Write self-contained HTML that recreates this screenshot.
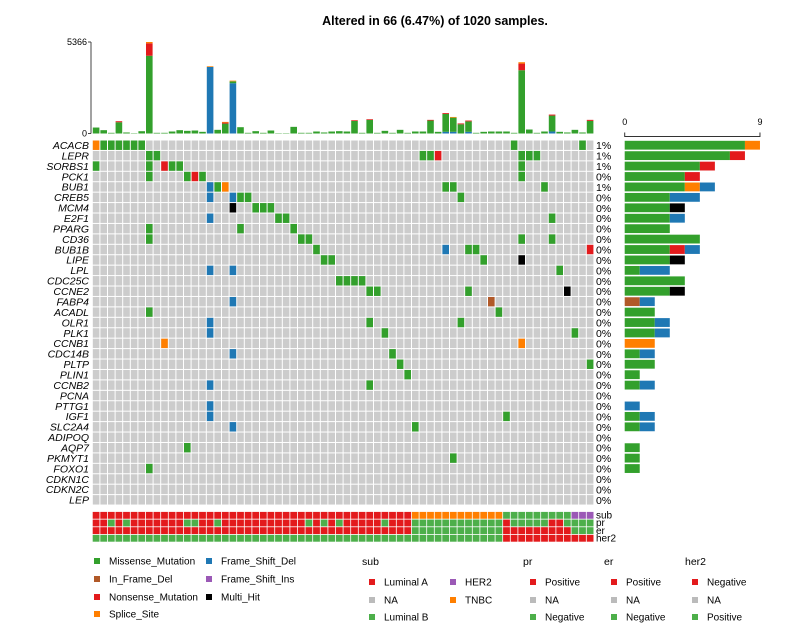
<!DOCTYPE html>
<html><head><meta charset="utf-8">
<style>
body{margin:0;background:#fff;}
svg{display:block;font-family:"Liberation Sans",sans-serif;}
</style></head>
<body>
<svg id="chart" width="794" height="637" viewBox="0 0 794 637" xmlns="http://www.w3.org/2000/svg">
<text x="435" y="25" font-size="12.5" font-weight="bold" text-anchor="middle">Altered in 66 (6.47%) of 1020 samples.</text>
<g id="tmb"></g><g id="grid"></g><g id="side"></g><g id="ann"></g><g id="legend"></g>
</svg>
<script>
const genes=["ACACB","LEPR","SORBS1","PCK1","BUB1","CREB5","MCM4","E2F1","PPARG","CD36","BUB1B","LIPE","LPL","CDC25C","CCNE2","FABP4","ACADL","OLR1","PLK1","CCNB1","CDC14B","PLTP","PLIN1","CCNB2","PCNA","PTTG1","IGF1","SLC2A4","ADIPOQ","AQP7","PKMYT1","FOXO1","CDKN1C","CDKN2C","LEP"];
// mutations: [geneIndex, sampleIndex, type]
const mutations=[
[0,0,"S"],[0,1,"M"],[0,2,"M"],[0,3,"M"],[0,4,"M"],[0,5,"M"],[0,6,"M"],[0,55,"M"],[0,64,"M"],
[1,7,"M"],[1,8,"M"],[1,43,"M"],[1,44,"M"],[1,45,"N"],[1,56,"M"],[1,57,"M"],[1,58,"M"],
[2,0,"M"],[2,7,"M"],[2,9,"N"],[2,10,"M"],[2,11,"M"],[2,56,"M"],
[3,7,"M"],[3,12,"M"],[3,13,"N"],[3,14,"M"],[3,56,"M"],
[4,15,"D"],[4,16,"M"],[4,17,"S"],[4,46,"M"],[4,47,"M"],[4,59,"M"],
[5,15,"D"],[5,18,"D"],[5,19,"M"],[5,20,"M"],[5,48,"M"],
[6,18,"H"],[6,21,"M"],[6,22,"M"],[6,23,"M"],
[7,15,"D"],[7,24,"M"],[7,25,"M"],[7,60,"M"],
[8,7,"M"],[8,19,"M"],[8,26,"M"],
[9,7,"M"],[9,27,"M"],[9,28,"M"],[9,56,"M"],[9,60,"M"],
[10,29,"M"],[10,46,"D"],[10,49,"M"],[10,50,"M"],[10,65,"N"],
[11,30,"M"],[11,31,"M"],[11,51,"M"],[11,56,"H"],
[12,15,"D"],[12,18,"D"],[12,61,"M"],
[13,32,"M"],[13,33,"M"],[13,34,"M"],[13,35,"M"],
[14,36,"M"],[14,37,"M"],[14,49,"M"],[14,62,"H"],
[15,18,"D"],[15,52,"I"],
[16,7,"M"],[16,53,"M"],
[17,15,"D"],[17,36,"M"],[17,48,"M"],
[18,15,"D"],[18,38,"M"],[18,63,"M"],
[19,9,"S"],[19,56,"S"],
[20,18,"D"],[20,39,"M"],
[21,40,"M"],[21,65,"M"],
[22,41,"M"],
[23,15,"D"],[23,36,"M"],
[25,15,"D"],
[26,15,"D"],[26,54,"M"],
[27,18,"D"],[27,42,"M"],
[29,12,"M"],
[30,47,"M"],
[31,7,"M"]
];
const typeOrder=["M","I","N","S","D","F","H"];
const typeColor={M:"#33A02C",I:"#B15928",N:"#E31A1C",S:"#FF7F00",D:"#1F78B4",F:"#9B59B6",H:"#000000"};
// TMB stacks per sample
const tmbGreen=[350,195,40,660,60,20,135,4560,40,40,117,195,156,175,98,0,215,580,110,370,40,137,40,175,20,20,390,40,40,117,60,117,137,117,740,40,800,40,156,40,215,40,117,117,760,98,1050,830,540,610,40,98,117,117,117,40,3710,234,40,117,930,98,60,215,60,740];
const tmbBlue=[0,0,0,0,0,0,0,0,0,0,0,0,0,0,0,3900,0,0,2950,0,0,0,0,0,0,0,0,0,0,0,0,0,0,0,0,0,0,0,0,0,0,0,0,0,0,0,100,100,0,100,0,0,0,0,0,0,0,0,0,0,120,0,0,0,0,0];
const tmbRed=[0,0,0,60,0,0,0,730,0,0,0,0,0,0,0,0,0,60,0,0,0,0,0,0,0,0,0,0,0,0,0,0,0,0,40,0,40,0,0,0,0,0,0,0,40,0,50,0,50,50,0,0,0,0,0,0,390,0,0,0,60,0,0,0,0,60];
const tmbOrange=[0,0,0,0,0,0,0,76,0,0,0,0,0,0,0,40,0,40,40,0,0,0,0,0,0,0,0,0,0,0,0,0,0,0,0,0,0,0,0,0,0,0,0,0,0,0,0,40,0,0,0,0,0,0,0,0,80,0,0,0,0,0,0,0,0,0];
const tmbMax=5366;
const subType=[];const prStatus=[];const erStatus=[];const her2Status=[];
for(let i=0;i<66;i++){subType.push(i<42?"LumA":i<54?"TNBC":i<63?"LumB":"HER2");}
const prNegIdx=[2,4,12,13,16,28,30,32,38,42,43,44,45,46,47,48,49,50,51,52,53,55,56,57,58,59,62,63,64,65];
for(let i=0;i<66;i++){prStatus.push(prNegIdx.includes(i)?"Neg":"Pos");}
for(let i=0;i<66;i++){erStatus.push((i<42||(i>=54&&i<63))?"Pos":"Neg");}
for(let i=0;i<66;i++){her2Status.push(i<54?"Pos":"Neg");}
const annColor={LumA:"#E31A1C",TNBC:"#FF7F00",LumB:"#4DAF4A",HER2:"#9B59B6",Pos:"#E31A1C",Neg:"#4DAF4A"};
const her2Color={Pos:"#4DAF4A",Neg:"#E31A1C"};

const NS="http://www.w3.org/2000/svg";
const X0=92.3,CW=7.6,Y0=140,RH=10.43,N=66;
const xS=i=>X0+i*CW;
const yG=g=>Y0+g*RH;
function mk(tag,attrs,parent){const e=document.createElementNS(NS,tag);for(const k in attrs)e.setAttribute(k,attrs[k]);parent.appendChild(e);return e;}

// TMB bar chart
const tmbG=document.getElementById('tmb');
const tBase=133.5,tTop=42;
const yT=v=>tBase-(v/tmbMax)*(tBase-tTop);
let ax=mk('line',{x1:91,y1:tTop,x2:91,y2:tBase,stroke:'#444','stroke-width':1},tmbG);


[[0,"0"],[tmbMax,"5366"]].forEach(([v,l])=>{
 let t=mk('line',{x1:88,y1:yT(v),x2:91,y2:yT(v),stroke:'#444'},tmbG);
 
 
 let tx=mk('text',{x:87,y:yT(v)+3,'font-size':9,'text-anchor':'end'},tmbG);tx.textContent=l;
 
 
});
for(let i=0;i<N;i++){
 let base=0;
 [[tmbBlue,"#1F78B4"],[tmbGreen,"#33A02C"],[tmbRed,"#E31A1C"],[tmbOrange,"#FF7F00"]].forEach(([arr,c])=>{
  const v=arr[i];if(v<=0)return;
  const r=mk('rect',{x:xS(i)+0.5,y:yT(base+v),width:CW-1,height:yT(base)-yT(base+v),fill:c},tmbG);
  
  
  base+=v;
 });
}

// grid
const gridG=document.getElementById('grid');
mk('rect',{x:X0,y:Y0,width:N*CW,height:genes.length*RH,fill:'#fff'},gridG);
for(let g=0;g<genes.length;g++){
 for(let i=0;i<N;i++){
  const c=mk('rect',{x:xS(i)+0.5,y:yG(g)+0.5,width:CW-1,height:RH-1,fill:'#CCCCCC'},gridG);
  
  
 }
 const lb=mk('text',{x:89,y:yG(g)+RH/2+3.8,'font-size':10.5,'font-style':'italic','text-anchor':'end'},gridG);
 lb.textContent=genes[g];
 
 
}
mutations.forEach(([g,i,t])=>{
 const c=mk('rect',{x:xS(i)+0.5,y:yG(g)+0.5,width:CW-1,height:RH-1,fill:typeColor[t]},gridG);
 
 
});

// side bar
const sideG=document.getElementById('side');
const SX=624.7,SU=15.03;
const sl=mk('path',{d:`M${SX} 132.5V136.5H${SX+9*SU}V132.5`,fill:'none',stroke:'#333'},sideG);


[[0,"0"],[9,"9"]].forEach(([v,l])=>{
 const t=mk('text',{x:SX+v*SU,y:125,'font-size':9,'text-anchor':'middle'},sideG);t.textContent=l;
 
 
});
for(let g=0;g<genes.length;g++){
 const ms=mutations.filter(m=>m[0]===g);
 const samples=new Set(ms.map(m=>m[1]));
 const pct=Math.round(samples.size/1020*100);
 const p=mk('text',{x:596,y:yG(g)+RH/2+4,'font-size':10.5},sideG);p.textContent=pct+"%";
 
 
 let acc=0;
 typeOrder.forEach(t=>{
  const n=ms.filter(m=>m[2]===t).length;if(!n)return;
  const r=mk('rect',{x:SX+acc*SU,y:yG(g)+0.8,width:n*SU,height:RH-1.6,fill:typeColor[t]},sideG);
  
  
  acc+=n;
 });
}

// annotation tracks
const annG=document.getElementById('ann');
const AY=511.5,AH=7.65;
const tracks=[["sub",subType,annColor],["pr",prStatus,annColor],["er",erStatus,annColor],["her2",her2Status,her2Color]];
tracks.forEach(([nm,arr,cm],k)=>{
 for(let i=0;i<N;i++){
  const r=mk('rect',{x:xS(i)+0.4,y:AY+k*AH+0.4,width:CW-0.8,height:AH-0.8,fill:cm[arr[i]]},annG);
  
  
 }
 const t=mk('text',{x:596,y:AY+k*AH+7,'font-size':10},annG);t.textContent=nm;
 
 
});

// legend
const lg=document.getElementById('legend');
function entry(x,y,c,label,name){
 const r=mk('rect',{x:x-3,y:y-3,width:6,height:6,fill:c},lg);
 
 
 const t=mk('text',{x:x+12,y:y+3.5,'font-size':10},lg);t.textContent=label;
 
 
}
function title(x,y,l){const t=mk('text',{x:x,y:y,'font-size':10.5},lg);t.textContent=l;
 
 }
const ly=[561,579,597,614];
entry(97,ly[0],"#33A02C","Missense_Mutation","legend-entry");
entry(97,ly[1],"#B15928","In_Frame_Del","legend-entry");
entry(97,ly[2],"#E31A1C","Nonsense_Mutation","legend-entry");
entry(97,ly[3],"#FF7F00","Splice_Site","legend-entry");
entry(209,ly[0],"#1F78B4","Frame_Shift_Del","legend-entry");
entry(209,ly[1],"#9B59B6","Frame_Shift_Ins","legend-entry");
entry(209,ly[2],"#000000","Multi_Hit","legend-entry");
title(362,565,"sub");
entry(372,582,"#E31A1C","Luminal A","legend-entry");
entry(372,600,"#BBBBBB","NA","legend-entry");
entry(372,617,"#4DAF4A","Luminal B","legend-entry");
entry(453,582,"#9B59B6","HER2","legend-entry");
entry(453,600,"#FF7F00","TNBC","legend-entry");
title(523,565,"pr");
entry(533,582,"#E31A1C","Positive","legend-entry");
entry(533,600,"#BBBBBB","NA","legend-entry");
entry(533,617,"#4DAF4A","Negative","legend-entry");
title(604,565,"er");
entry(614,582,"#E31A1C","Positive","legend-entry");
entry(614,600,"#BBBBBB","NA","legend-entry");
entry(614,617,"#4DAF4A","Negative","legend-entry");
title(685,565,"her2");
entry(695,582,"#E31A1C","Negative","legend-entry");
entry(695,600,"#BBBBBB","NA","legend-entry");
entry(695,617,"#4DAF4A","Positive","legend-entry");
</script>
</body></html>
